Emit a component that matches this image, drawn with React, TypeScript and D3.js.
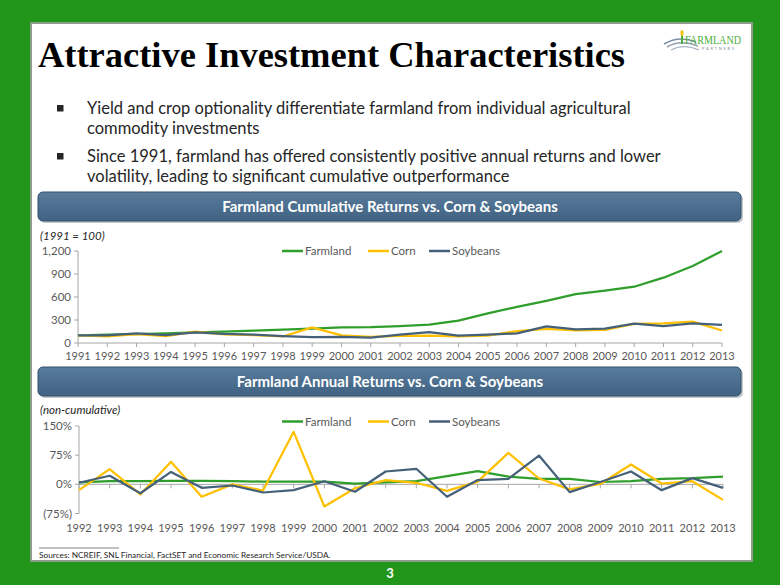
import React from 'react';
import * as d3 from 'd3';

// ---------- data ----------
const cumYears = ['1991','1992','1993','1994','1995','1996','1997','1998','1999','2000','2001','2002','2003','2004','2005','2006','2007','2008','2009','2010','2011','2012','2013'];
const cumFarmland = [100,108,116,125,137,149,161,173,187,205,208,220,240,293,387,472,550,637,682,734,852,1004,1200];
const cumCorn = [100,87,117,88,148,113,104,85,203,100,80,93,96,87,96,156,183,165,170,250,255,278,163];
const cumSoybeans = [100,100,126,104,139,120,110,90,78,80,70,110,143,96,108,126,217,178,187,252,220,256,235];
const cumTicks = [0,300,600,900,1200];

const annYears = ['1992','1993','1994','1995','1996','1997','1998','1999','2000','2001','2002','2003','2004','2005','2006','2007','2008','2009','2010','2011','2012','2013'];
const annFarmland = [5,8,8,9,9,8,7,7,7,2,5,8,21,34,20,14,14,6,8,14,16,20];
const annCorn = [-15,39,-26,58,-32,0,-16,135,-57,-10,11,4,-17,7,81,15,-13,1,51,2,8,-40];
const annSoybeans = [4,22,-23,32,-9,-3,-21,-15,8,-19,33,40,-32,11,14,74,-20,6,33,-15,16,-9];
const annTicks = [-75,0,75,150];
const annTickLabels = ['(75%)','0%','75%','150%'];

const seriesNames = ['Farmland','Corn','Soybeans'];
const seriesColors = ['#2f9e2a','#ffc000','#45617a'];

const bullets = [
  ['Yield and crop optionality differentiate farmland from individual agricultural', 'commodity investments'],
  ['Since 1991, farmland has offered consistently positive annual returns and lower', 'volatility, leading to significant cumulative outperformance'],
];

const SANS = 'Lato, "Open Sans", sans-serif';
const AXIS = '#a6a6a6';
const LABEL = '#595959';

type ChartProps = {
  years: string[];
  series: number[][];
  domain: [number, number];
  ticks: number[];
  tickLabels: string[];
  x0: number; x1: number; yTop: number; yBottom: number;
  labelY: number;
  legendY: number;
};

function LineChart(p: ChartProps) {
  const x = d3.scalePoint<string>().domain(p.years).range([p.x0, p.x1]);
  const y = d3.scaleLinear().domain(p.domain).range([p.yBottom, p.yTop]);
  const zeroY = y(0);
  const line = d3.line<number>().x((_, i) => x(p.years[i]) as number).y(d => y(d));
  const legendX = [282, 368, 429];
  return (
    <g>
      {/* y axis */}
      <line x1={p.x0} x2={p.x0} y1={p.yTop} y2={p.yBottom} stroke={AXIS} strokeWidth={1} />
      {p.ticks.map((t, i) => (
        <g key={'yt' + i}>
          <line x1={p.x0 - 4} x2={p.x0} y1={y(t)} y2={y(t)} stroke={AXIS} />
          <text x={p.x0 - 7} y={y(t)} dy="0.35em" textAnchor="end" fontFamily={SANS} fontSize={11.5} fill={LABEL}>{p.tickLabels[i]}</text>
        </g>
      ))}
      {/* x axis */}
      <line x1={p.x0} x2={p.x1} y1={zeroY} y2={zeroY} stroke={AXIS} strokeWidth={1} />
      {p.years.map(yr => (
        <g key={'xt' + yr}>
          <line x1={x(yr)} x2={x(yr)} y1={zeroY} y2={zeroY + 4} stroke={AXIS} />
          <text x={x(yr)} y={p.labelY} dy="0.35em" textAnchor="middle" fontFamily={SANS} fontSize={11} fill={LABEL}>{yr}</text>
        </g>
      ))}
      {/* series */}
      {p.series.map((s, i) => (
        <path key={'s' + i} d={line(s) || ''} fill="none" stroke={seriesColors[i]} strokeWidth={2.25} strokeLinejoin="round" />
      ))}
      {/* legend */}
      {seriesNames.map((n, i) => (
        <g key={'lg' + i}>
          <line x1={legendX[i]} x2={legendX[i] + 21} y1={p.legendY} y2={p.legendY} stroke={seriesColors[i]} strokeWidth={2.5} />
          <text x={legendX[i] + 23} y={p.legendY} dy="0.35em" fontFamily={SANS} fontSize={11.5} fill={LABEL}>{n}</text>
        </g>
      ))}
    </g>
  );
}

function HeaderBar({ y, text }: { y: number; text: string }) {
  return (
    <g>
      <rect x={40} y={y + 2} width={703} height={29} rx={5} fill="#9aa3ab" opacity={0.6} />
      <rect x={38} y={y} width={703} height={29} rx={5} fill="url(#barGrad)" stroke="#34506a" strokeWidth={1} />
      <text x={390} y={y + 15} dy="0.35em" textAnchor="middle" fontFamily={SANS} fontWeight={700} fontSize={15} fill="#ffffff">{text}</text>
    </g>
  );
}

export default function App() {
  return (
    <svg width={780} height={585} style={{ position: 'absolute', left: 0, top: 0 }} xmlns="http://www.w3.org/2000/svg">
      <defs>
        <linearGradient id="barGrad" x1="0" x2="0" y1="0" y2="1">
          <stop offset="0" stopColor="#587c9c" />
          <stop offset="1" stopColor="#416282" />
        </linearGradient>
      </defs>
      <rect x={0} y={0} width={780} height={585} fill="#22961a" />
      <rect x={31} y={23} width={721} height={538} fill="#ffffff" stroke="#8f9c87" strokeWidth={2} />

      {/* title */}
      <text x={38} y={67} fontFamily='"Liberation Serif", "Times New Roman", serif' fontWeight={700} fontSize={36} fill="#000000" textLength={587} lengthAdjust="spacingAndGlyphs">Attractive Investment Characteristics</text>

      {/* logo */}
      <g>
        <path d="M664,44 C674,38 686,38 696,42" fill="none" stroke="#7a8ea6" strokeWidth={1.5} />
        <path d="M667,47 C677,41 688,42 698,46" fill="none" stroke="#8fa0b4" strokeWidth={1.5} />
        <path d="M671,50 C680,45 690,46 699,50" fill="none" stroke="#a5b3c3" strokeWidth={1.2} />
        <line x1={682} x2={682} y1={34} y2={44} stroke="#4caf3c" strokeWidth={2} />
        <ellipse cx={682} cy={33} rx={1.6} ry={3} fill="#f2c21b" />
        <text x={685} y={44} fontFamily='"Liberation Serif", serif' fontSize={11.5} fill="#4caf3c" textLength={56} lengthAdjust="spacingAndGlyphs">FARMLAND</text>
        <text x={702} y={49.5} fontFamily={SANS} fontSize={4} fill="#7d8da0" textLength={32} lengthAdjust="spacing">PARTNERS</text>
      </g>

      {/* bullets */}
      {bullets.map((b, i) => (
        <g key={'b' + i}>
          <rect x={57} y={105 + i * 48} width={6.5} height={6.5} fill="#262626" />
          {b.map((ln, j) => (
            <text key={j} x={87} y={108.5 + i * 48 + j * 20} dy="0.35em" fontFamily={SANS} fontSize={16.5} fill="#262626">{ln}</text>
          ))}
        </g>
      ))}

      <HeaderBar y={192} text="Farmland Cumulative Returns vs. Corn & Soybeans" />
      <text x={40} y={236} dy="0.35em" fontFamily={SANS} fontStyle="italic" fontSize={11.5} fill="#262626">(1991 = 100)</text>
      <LineChart
        years={cumYears}
        series={[cumFarmland, cumCorn, cumSoybeans]}
        domain={[0, 1200]}
        ticks={cumTicks}
        tickLabels={cumTicks.map(t => d3.format(',')(t))}
        x0={78} x1={722} yTop={251} yBottom={343}
        labelY={356}
        legendY={251}
      />

      <HeaderBar y={367} text="Farmland Annual Returns vs. Corn & Soybeans" />
      <text x={40} y={410} dy="0.35em" fontFamily={SANS} fontStyle="italic" fontSize={11.5} fill="#262626">(non-cumulative)</text>
      <LineChart
        years={annYears}
        series={[annFarmland, annCorn, annSoybeans]}
        domain={[-75, 150]}
        ticks={annTicks}
        tickLabels={annTickLabels}
        x0={79} x1={723} yTop={426} yBottom={513.5}
        labelY={528}
        legendY={421.5}
      />

      {/* footer */}
      <line x1={39} x2={119} y1={548} y2={548} stroke="#595959" strokeWidth={0.75} />
      <text x={39} y={555} dy="0.35em" fontFamily={SANS} fontSize={8.3} fill="#262626">Sources: NCREIF, SNL Financial, FactSET and Economic Research Service/USDA.</text>
      <text x={390} y={573} dy="0.35em" textAnchor="middle" fontFamily={SANS} fontWeight={700} fontSize={13} fill="#ffffff">3</text>
    </svg>
  );
}
